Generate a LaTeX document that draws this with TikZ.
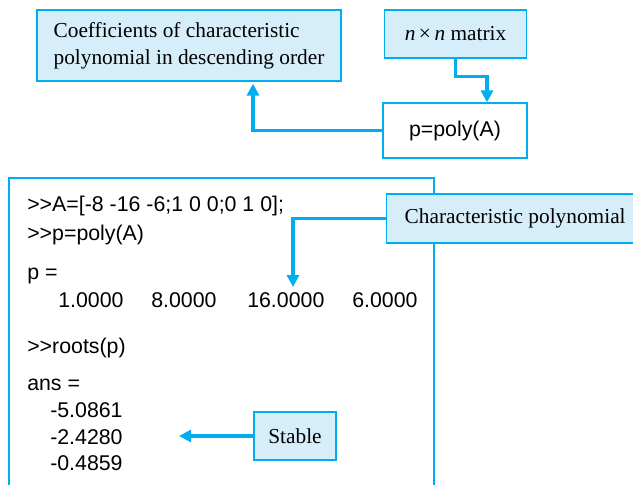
\documentclass[tikz,border=0pt]{standalone}
\usepackage{fontspec}
\setmainfont{Liberation Serif}
\setsansfont{Liberation Sans}
\usetikzlibrary{arrows.meta, positioning, calc}
\definecolor{cyanline}{RGB}{0,174,239}
\definecolor{boxfill}{RGB}{214,238,250}

\begin{document}
\begin{tikzpicture}[
        x=0.75pt, y=-0.75pt,
        label/.style={rectangle, draw=cyanline, fill=boxfill, line width=1pt, align=left, inner sep=0pt, font=\fontsize{16}{20}\selectfont},
        cmd/.style={rectangle, draw=cyanline, fill=white, line width=1pt, inner sep=0pt, font=\sffamily\fontsize{16}{20}\selectfont},
        code/.style={anchor=base west, inner sep=0pt, font=\sffamily\fontsize{16}{20}\selectfont},
        link/.style={-{Triangle[width=9pt, length=9pt]}, draw=cyanline, line width=2.5pt}
    ]
        \path[use as bounding box, clip] (0,0) rectangle (633,485);

        % top part: poly() call
        \node[label, minimum width=228pt, minimum height=53.25pt] (coef) at (189,45.5) {Coefficients of characteristic\\polynomial in descending order};
        \node[label, minimum width=106.5pt, minimum height=36pt] (mat) at (455.5,34) {\textit{n}\,×\,\textit{n} matrix};
        \node[cmd, minimum width=108pt, minimum height=41.25pt] (poly) at (455,130.5) {p=poly(A)};

        \draw[link] (mat.south) -- ++(0,18) -| ($(poly.north)+(32,0)$);
        \draw[link, shorten >=1.5pt] (poly.west) -| ($(coef.south)+(64,0)$);

        % command window
        \draw[cyanline, line width=1pt] (9,500) -- (9,178) -- (434,178) -- (434,500);

        \node[code] (cmdA) at (27,212) {>{}>A=[-8 -16 -6;1 0 0;0 1 0];};
        \node[code] (cmdP) at (27,240) {>{}>p=poly(A)};
        \node[code] (outP) at (27,280) {p =};
        \node[code] (v1) at (58,307) {1.0000};
        \node[code] (v2) at (151,307) {8.0000};
        \node[code] (v3) at (247,307) {16.0000};
        \node[code] (v4) at (352,307) {6.0000};
        \node[code] (cmdR) at (27,353) {>{}>roots(p)};
        \node[code] (ans) at (27,390) {ans =};
        \node[code] (r1) at (50,417) {-5.0861};
        \node[code] (r2) at (50,444) {-2.4280};
        \node[code] (r3) at (50,470) {-0.4859};

        \node[label, anchor=west, inner xsep=13.5pt, minimum height=36.75pt] (charp) at (386,218.5) {Characteristic polynomial};
        \node[label, minimum width=61.5pt, minimum height=36pt] (stable) at (295,436) {Stable};

        \coordinate (c16) at (293,287);
        \coordinate (croot) at (179,436);
        \draw[link] (charp.west) -| (c16);
        \draw[link] (stable.west) -- (croot);
    \end{tikzpicture}
\end{document}
